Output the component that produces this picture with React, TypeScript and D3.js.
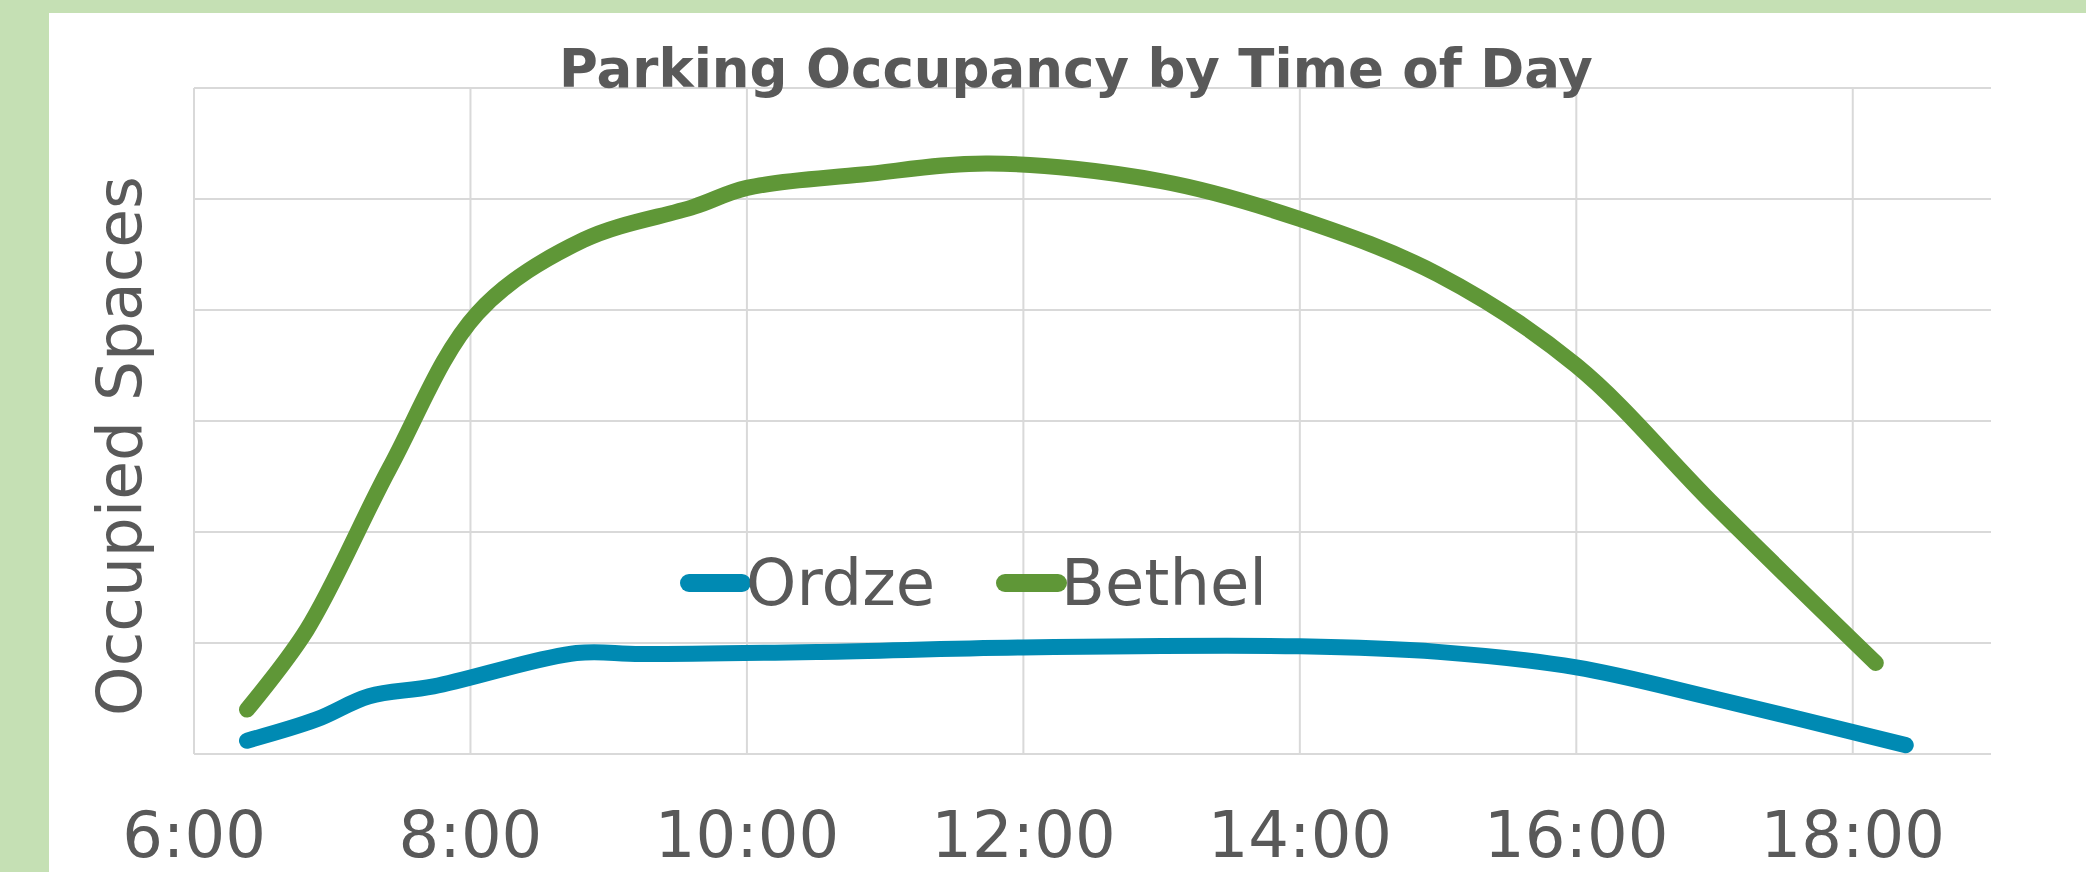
import { useEffect, useRef } from "react";
import * as d3 from "d3";

const WIDTH = 2086;
const HEIGHT = 872;

const hourTicks = [6, 8, 10, 12, 14, 16, 18];
const tickLabels = ["6:00", "8:00", "10:00", "12:00", "14:00", "16:00", "18:00"];
const occupancyTicks = [0, 100, 200, 300, 400, 500, 600];

const ordzeTimes = ["6:23", "6:53", "7:16", "7:44", "8:46", "9:14", "10:32", "12:00", "14:00", "15:00", "16:00", "17:00", "18:23"];
const ordzeValues = [12, 31, 52, 61, 91, 90, 92, 96, 97, 92, 78, 50, 8];

const bethelTimes = ["6:23", "6:49", "7:25", "8:03", "8:49", "9:37", "10:00", "10:50", "11:45", "13:00", "14:00", "15:00", "16:00", "17:00", "18:10"];
const bethelValues = [40, 112, 258, 397, 463, 493, 510, 522, 532, 516, 482, 432, 350, 224, 82];

const seriesNames = ["Ordze", "Bethel"];
const seriesColors = ["#008AB3", "#5F9737"];

const toHours = (t: string) => {
  const [h, m] = t.split(":").map(Number);
  return h + m / 60;
};

const App = () => {
  const svgRef = useRef<SVGSVGElement>(null);

  useEffect(() => {
    const svg = d3.select(svgRef.current);
    svg.selectAll("*").remove();
    svg.attr("width", WIDTH).attr("height", HEIGHT);

    const plot = { left: 194, right: 1991, top: 88, bottom: 754 };
    const textColor = "#595959";
    const font = "'DejaVu Sans', Verdana, sans-serif";

    const x = d3.scaleLinear().domain([6, 19]).range([plot.left, plot.right]);
    const y = d3.scaleLinear().domain([0, 600]).range([plot.bottom, plot.top]);

    // frame
    svg.append("rect").attr("width", WIDTH).attr("height", HEIGHT).attr("fill", "#C5E0B4");
    svg
      .append("rect")
      .attr("x", 49)
      .attr("y", 13)
      .attr("width", WIDTH - 49)
      .attr("height", HEIGHT - 13)
      .attr("fill", "#ffffff");

    // grid
    const grid = svg.append("g").attr("stroke", "#D9D9D9").attr("stroke-width", 2);
    grid
      .selectAll("line.h")
      .data(occupancyTicks)
      .join("line")
      .attr("class", "h")
      .attr("x1", plot.left)
      .attr("x2", plot.right)
      .attr("y1", (d) => y(d))
      .attr("y2", (d) => y(d));
    grid
      .selectAll("line.v")
      .data(hourTicks)
      .join("line")
      .attr("class", "v")
      .attr("x1", (d) => x(d))
      .attr("x2", (d) => x(d))
      .attr("y1", plot.top)
      .attr("y2", plot.bottom);

    // x labels
    svg
      .append("g")
      .selectAll("text")
      .data(hourTicks)
      .join("text")
      .attr("x", (d) => x(d))
      .attr("y", 857)
      .attr("text-anchor", "middle")
      .attr("font-family", font)
      .attr("font-size", 64)
      .attr("fill", textColor)
      .text((d, i) => tickLabels[i]);

    // series
    const series = [
      ordzeTimes.map((t, i) => ({ hour: toHours(t), value: ordzeValues[i] })),
      bethelTimes.map((t, i) => ({ hour: toHours(t), value: bethelValues[i] })),
    ];
    const line = d3
      .line<{ hour: number; value: number }>()
      .x((d) => x(d.hour))
      .y((d) => y(d.value))
      .curve(d3.curveCatmullRom.alpha(0.5));
    series.forEach((data, i) => {
      svg
        .append("path")
        .datum(data)
        .attr("fill", "none")
        .attr("stroke", seriesColors[i])
        .attr("stroke-width", 16)
        .attr("stroke-linecap", "round")
        .attr("stroke-linejoin", "round")
        .attr("d", line);
    });

    // title
    svg
      .append("text")
      .attr("x", 1076)
      .attr("y", 87)
      .attr("text-anchor", "middle")
      .attr("font-family", font)
      .attr("font-weight", "bold")
      .attr("font-size", 53)
      .attr("fill", textColor)
      .text("Parking Occupancy by Time of Day");

    // y title
    svg
      .append("text")
      .attr("transform", "translate(141,446) rotate(-90)")
      .attr("text-anchor", "middle")
      .attr("font-family", font)
      .attr("font-size", 63)
      .attr("fill", textColor)
      .text("Occupied Spaces");

    // legend
    const legendX = [689, 1005];
    const legend = svg.append("g");
    seriesNames.forEach((name, i) => {
      legend
        .append("line")
        .attr("x1", legendX[i])
        .attr("x2", legendX[i] + 53)
        .attr("y1", 583)
        .attr("y2", 583)
        .attr("stroke", seriesColors[i])
        .attr("stroke-width", 18)
        .attr("stroke-linecap", "round");
      legend
        .append("text")
        .attr("x", legendX[i] + 57 + (i === 1 ? -1 : 0))
        .attr("y", 605)
        .attr("font-family", font)
        .attr("font-size", 64)
        .attr("fill", textColor)
        .text(name);
    });
  }, []);

  return (
    <svg
      ref={svgRef}
      style={{ position: "absolute", left: 0, top: 0, display: "block" }}
    ></svg>
  );
};

export default App;
